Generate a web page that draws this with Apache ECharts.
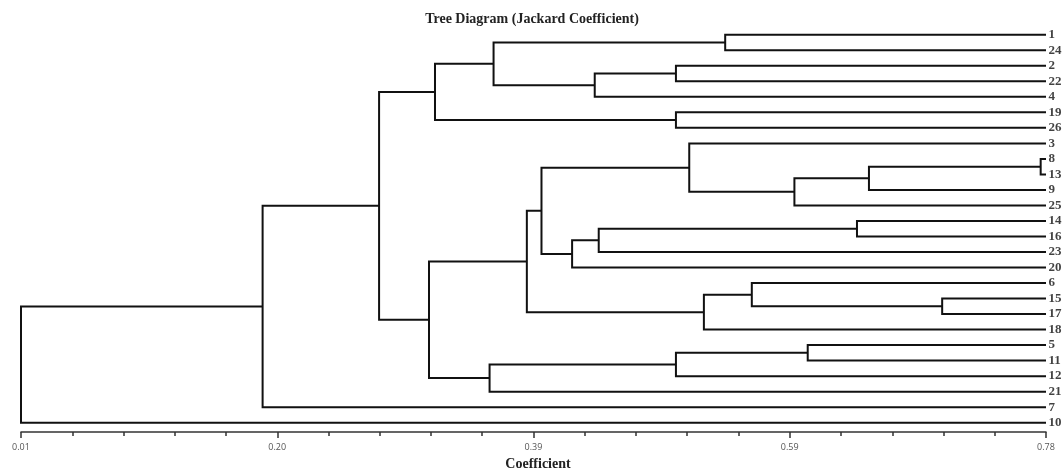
<!DOCTYPE html>
<html>
<head>
<meta charset="utf-8">
<script src="https://cdn.jsdelivr.net/npm/echarts@6/dist/echarts.min.js"></script>
<style>html,body{margin:0;padding:0;background:#fff}#c{width:1064px;height:468px}</style>
</head>
<body>
<div id="c"></div>
<script>
// Leaf order (top to bottom)
const leafOrder = ['1','24','2','22','4','19','26','3','8','13','9','25','14','16','23','20','6','15','17','18','5','11','12','21','7','10'];
// Merges: [left child, right child, coefficient]; clusters referenced as 'c' + merge index
const merges = [
  ['1','24',0.539],    // c0
  ['2','22',0.502],    // c1
  ['c1','4',0.441],    // c2
  ['c0','c2',0.365],   // c3
  ['19','26',0.502],   // c4
  ['c3','c4',0.321],   // c5
  ['8','13',0.776],    // c6
  ['c6','9',0.647],    // c7
  ['c7','25',0.591],   // c8
  ['3','c8',0.512],    // c9
  ['14','16',0.638],   // c10
  ['c10','23',0.444],  // c11
  ['c11','20',0.424],  // c12
  ['c9','c12',0.401],  // c13
  ['15','17',0.702],   // c14
  ['6','c14',0.559],   // c15
  ['c15','18',0.523],  // c16
  ['c13','c16',0.390], // c17
  ['5','11',0.601],    // c18
  ['c18','12',0.502],  // c19
  ['c19','21',0.362],  // c20
  ['c17','c20',0.3165],// c21
  ['c5','c21',0.279],  // c22
  ['c22','7',0.1915],  // c23
  ['c23','10',0.01]    // c24
];
const leafLevel = 0.78;
const tickValues = [0.01,0.0485,0.087,0.1255,0.164,0.2025,0.241,0.2795,0.318,0.3565,0.395,0.4335,0.472,0.5105,0.549,0.5875,0.626,0.6645,0.703,0.7415,0.78];
const majorValues = [0.01,0.2025,0.395,0.5875,0.78];
const tickLabels = ['0.01','0.20','0.39','0.59','0.78'];

const pos = {};
leafOrder.forEach((l,i)=>{ pos[l] = {x: leafLevel, y: i}; });
const segs = [];
merges.forEach((m,k)=>{
  const a = pos[m[0]], b = pos[m[1]], h = m[2];
  segs.push({coords: [[a.x,a.y],[h,a.y],[h,b.y],[b.x,b.y]]});
  pos['c'+k] = {x: h, y: (a.y+b.y)/2};
});

const chart = echarts.init(document.getElementById('c'));
const lab = v => { let best=0; majorValues.forEach((m,i)=>{ if(Math.abs(m-v)<Math.abs(majorValues[best]-v)) best=i; }); return tickLabels[best]; };
const gridBox = {left: 21, right: 18, top: 27, height: 405};
chart.setOption({
  animation: false,
  title: [
    {text: 'Tree Diagram (Jackard Coefficient)', left: 'center', top: 7,
     textStyle: {fontFamily: 'Liberation Serif', fontWeight: 'bold', fontSize: 14, color: '#222'}},
    {text: 'Coefficient', left: 533, textAlign: 'center', top: 452,
     textStyle: {fontFamily: 'Liberation Serif', fontWeight: 'bold', fontSize: 14, color: '#222'}}
  ],
  grid: [Object.assign({}, gridBox), Object.assign({}, gridBox)],
  xAxis: [
    {type: 'value', gridIndex: 0, min: 0.01, max: 0.78, position: 'bottom',
     splitLine: {show: false},
     axisLine: {show: true, onZero: false, lineStyle: {color: '#333', width: 1.5}},
     axisTick: {show: true, length: 4, customValues: tickValues, lineStyle: {color: '#333', width: 1.5}},
     axisLabel: {show: true, customValues: majorValues, formatter: lab, margin: 11,
                 fontFamily: 'Open Sans', fontSize: 9, color: '#555'}},
    {type: 'value', gridIndex: 1, min: 0.01, max: 0.78, position: 'bottom',
     splitLine: {show: false},
     axisLine: {show: false, onZero: false},
     axisTick: {show: true, length: 6, customValues: majorValues, lineStyle: {color: '#333', width: 1.5}},
     axisLabel: {show: false}}
  ],
  yAxis: [
    {type: 'value', gridIndex: 0, min: -0.5, max: 25.6, inverse: true, show: false},
    {type: 'value', gridIndex: 1, min: -0.5, max: 25.6, inverse: true, show: false}
  ],
  series: [
    {type: 'lines', coordinateSystem: 'cartesian2d', xAxisIndex: 0, yAxisIndex: 0, polyline: true, silent: true, clip: false,
     lineStyle: {color: '#111', width: 2, opacity: 1}, data: segs},
    {type: 'scatter', xAxisIndex: 0, yAxisIndex: 0, symbolSize: 1, itemStyle: {color: 'rgba(0,0,0,0)'}, clip: false, silent: true,
     data: leafOrder.map((l,i)=>[leafLevel, i, l]),
     label: {show: true, position: 'right', distance: 2, formatter: p => p.data[2],
             fontFamily: 'Liberation Serif', fontWeight: 'bold', fontSize: 13, color: '#111'}}
  ]
});
</script>
</body>
</html>
